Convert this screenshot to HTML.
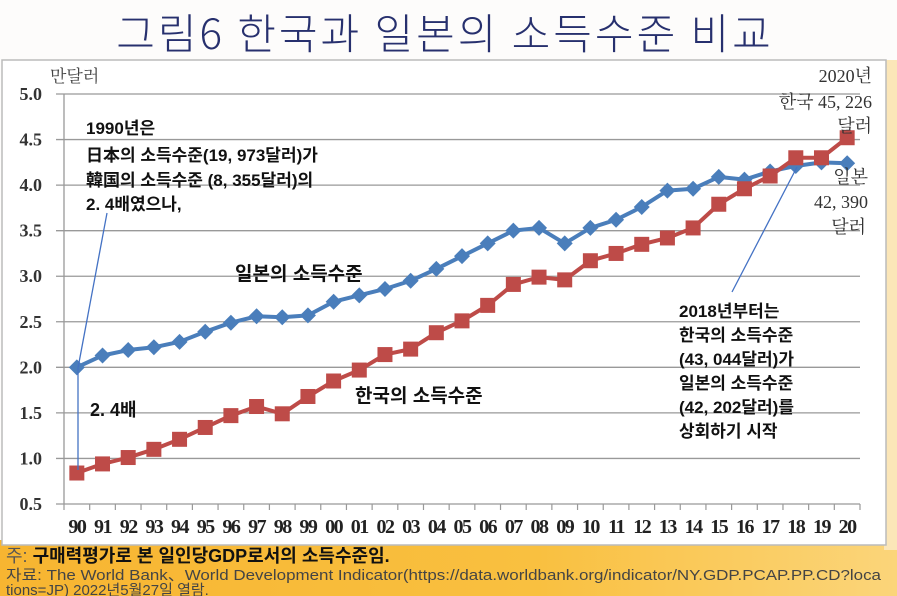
<!DOCTYPE html>
<html><head><meta charset="utf-8"><style>
html,body{margin:0;padding:0;width:897px;height:596px;overflow:hidden;background:#fdfcfb;font-family:"Liberation Sans","Noto Sans CJK KR",sans-serif}
svg{display:block}
</style></head><body>
<svg width="897" height="596" viewBox="0 0 897 596">
<defs><linearGradient id="og" x1="0" y1="0" x2="1" y2="0"><stop offset="0" stop-color="#f7b531"/><stop offset="0.6" stop-color="#f9c040"/><stop offset="1" stop-color="#fbd57a"/></linearGradient></defs>
<rect x="0" y="0" width="897" height="596" fill="#fdfcfb"/>
<rect x="0" y="540" width="897" height="56" fill="url(#og)"/>
<rect x="884" y="60" width="13" height="490" fill="#fbe6b8"/>
<text x="445" y="49" text-anchor="middle" font-size="42" letter-spacing="3" fill="#27306e" font-family="'Noto Sans CJK KR',sans-serif" font-weight="300">그림6 한국과 일본의 소득수준 비교</text>
<rect x="2" y="60" width="884" height="485" fill="#fff" stroke="#bbb" stroke-width="1.5"/>
<g id="grid"></g><g id="axes"></g>
<text x="50" y="82" font-size="17" fill="#444" font-family="'Noto Serif CJK SC',serif">만달러</text>
<g id="series"></g>
<g font-family="'Liberation Sans','Noto Sans CJK KR',sans-serif" font-weight="bold" font-size="17" fill="#111">
<text><tspan x="86" y="134">1990년은</tspan><tspan x="86" y="161">日本의  소득수준(19, 973달러)가</tspan><tspan x="86" y="186">韓国의  소득수준 (8, 355달러)의</tspan><tspan x="86" y="210">2. 4배였으나,</tspan></text>
<text x="235" y="280" font-size="19">일본의 소득수준</text>
<text x="355" y="402" font-size="19">한국의 소득수준</text>
<text x="90" y="416" font-size="18">2. 4배</text>
<text><tspan x="679" y="317">2018년부터는</tspan><tspan x="679" y="341">한국의  소득수준</tspan><tspan x="679" y="365">(43, 044달러)가</tspan><tspan x="679" y="389">일본의  소득수준</tspan><tspan x="679" y="413">(42, 202달러)를</tspan><tspan x="679" y="437">상회하기  시작</tspan></text>
</g>
<g font-family="'Liberation Serif','Noto Serif CJK SC',serif" font-size="18" fill="#333" text-anchor="end">
<text x="872" y="82">2020년</text>
<text x="872" y="108">한국  45, 226</text>
<text x="872" y="132">달러</text>
<text x="868" y="183">일본</text>
<text x="868" y="208">42, 390</text>
<text x="866" y="233">달러</text>
</g>
<line x1="107" y1="213" x2="78" y2="368" stroke="#4472c4" stroke-width="1.3"/>
<line x1="78" y1="368" x2="78" y2="470" stroke="#4472c4" stroke-width="1.3"/>
<line x1="797" y1="167" x2="732" y2="292" stroke="#4472c4" stroke-width="1.3"/>
<text x="6" y="562" font-size="18" fill="#111" font-weight="bold"><tspan font-weight="normal" fill="#555">주:</tspan> 구매력평가로 본 일인당GDP로서의 소득수준임.</text>
<text x="6" y="580" font-size="15" fill="#444" textLength="875" lengthAdjust="spacingAndGlyphs">자료: The World Bank、World Development Indicator(https://data.worldbank.org/indicator/NY.GDP.PCAP.PP.CD?loca</text>
<text x="6" y="595" font-size="15" fill="#444">tions=JP)  2022년5월27일 열람.</text>
</svg>
<script>
const years=["90","91","92","93","94","95","96","97","98","99","00","01","02","03","04","05","06","07","08","09","10","11","12","13","14","15","16","17","18","19","20"];
const japan=[2.00,2.13,2.19,2.22,2.28,2.39,2.49,2.56,2.55,2.57,2.72,2.79,2.86,2.95,3.08,3.22,3.36,3.50,3.53,3.36,3.53,3.62,3.76,3.94,3.96,4.09,4.06,4.15,4.21,4.25,4.24];
const korea=[0.84,0.94,1.01,1.10,1.21,1.34,1.47,1.57,1.49,1.68,1.85,1.97,2.14,2.20,2.38,2.51,2.68,2.91,2.99,2.96,3.17,3.25,3.35,3.42,3.53,3.79,3.96,4.10,4.30,4.30,4.52];
const yTicks=[0.5,1.0,1.5,2.0,2.5,3.0,3.5,4.0,4.5,5.0];
const NS="http://www.w3.org/2000/svg";
const X0=64,X1=860,Y0=94,Y1=504;
const step=(X1-X0)/years.length;
function xs(i){return X0+step*(i+0.5);}
function ys(v){return Y0+(5-v)*(Y1-Y0)/4.5;}
function mk(t,a,p){const e=document.createElementNS(NS,t);for(const k in a)e.setAttribute(k,a[k]);p.appendChild(e);return e;}
const grid=document.getElementById('grid'),axes=document.getElementById('axes'),ser=document.getElementById('series');
yTicks.forEach(v=>{
  if(v>0.5){const g=mk('line',{x1:X0-8,x2:X1,y1:ys(v),y2:ys(v),stroke:'#999','stroke-width':1.3},grid);
  
  }
  const t=mk('text',{x:42,y:ys(v)+6,'text-anchor':'end','font-size':18,'font-weight':'bold',fill:'#333','font-family':"'Liberation Serif',serif"},axes);
  t.textContent=v.toFixed(1);
  
  
});
const ax=mk('line',{x1:X0,x2:X0,y1:Y0,y2:Y1,stroke:'#999','stroke-width':1.3},axes);


const bx=mk('line',{x1:X0-8,x2:X1,y1:Y1,y2:Y1,stroke:'#999','stroke-width':1.3},axes);


for(let i=0;i<=years.length;i++){mk('line',{x1:X0+step*i,x2:X0+step*i,y1:Y1,y2:Y1+6,stroke:'#999','stroke-width':1.2},axes);}
years.forEach((y,i)=>{
  const t=mk('text',{x:xs(i),y:533,'text-anchor':'middle','font-size':20,'font-weight':'bold',fill:'#222','font-family':"'Liberation Serif',serif",'letter-spacing':'-1.5'},axes);
  t.textContent=y;
  
  
});
function line(data,color,name){
  const p=mk('polyline',{points:data.map((v,i)=>xs(i)+','+ys(v)).join(' '),fill:'none',stroke:color,'stroke-width':4,'stroke-linejoin':'round'},ser);
  
  
}
line(japan,'#4a7ebb','japan');
line(korea,'#be4b48','korea');
japan.forEach((v,i)=>{const x=xs(i),y=ys(v);
  const m=mk('polygon',{points:`${x},${y-8} ${x+8},${y} ${x},${y+8} ${x-8},${y}`,fill:'#4a7ebb'},ser);
  
  });
korea.forEach((v,i)=>{const x=xs(i),y=ys(v);
  const m=mk('rect',{x:x-7.5,y:y-7.5,width:15,height:15,fill:'#be4b48'},ser);
  
  });
</script>
</body></html>
